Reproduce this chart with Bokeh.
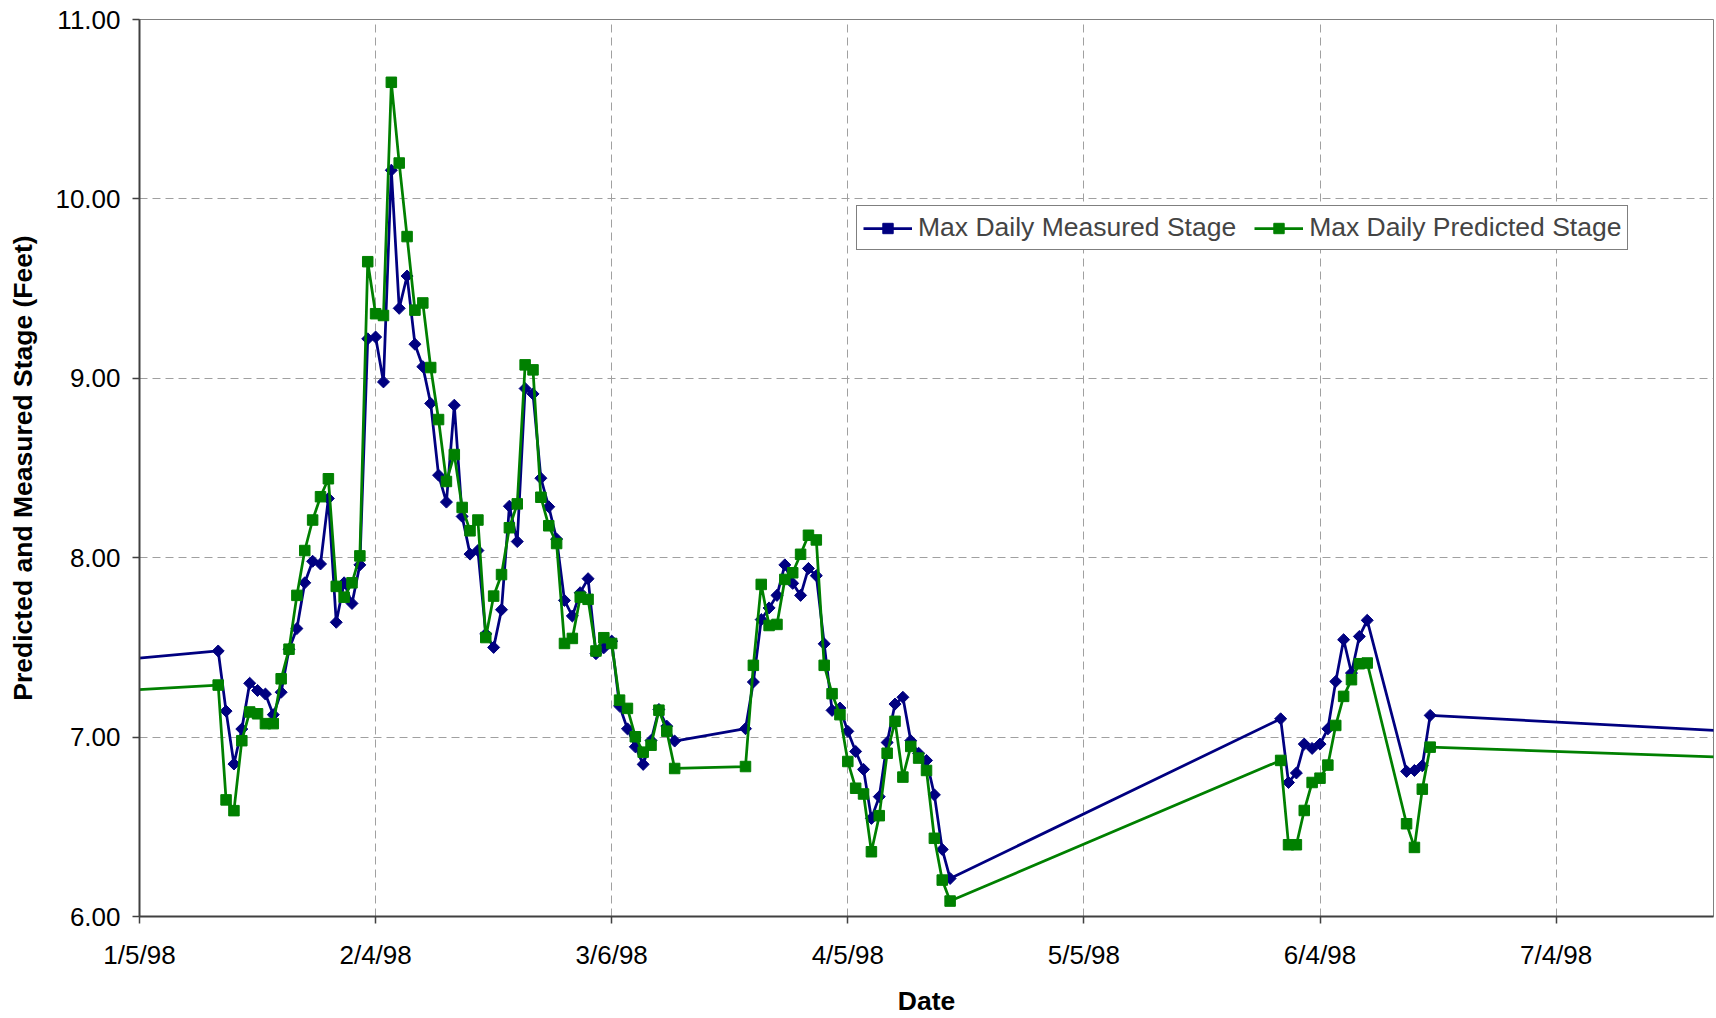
import math
import pandas as pd
from bokeh.plotting import figure
from bokeh.models import (ColumnDataSource, FixedTicker, Legend, LegendItem,
                          Range1d, NumeralTickFormatter)
from bokeh.embed import file_html
from bokeh.resources import INLINE

# ---------------- data ----------------
dates = [
    "1997-12-26",
    "1998-01-15", "1998-01-16", "1998-01-17", "1998-01-18", "1998-01-19", "1998-01-20",
    "1998-01-21", "1998-01-22", "1998-01-23", "1998-01-24", "1998-01-25", "1998-01-26",
    "1998-01-27", "1998-01-28", "1998-01-29", "1998-01-30", "1998-01-31", "1998-02-01",
    "1998-02-02", "1998-02-03", "1998-02-04", "1998-02-05", "1998-02-06", "1998-02-07",
    "1998-02-08", "1998-02-09", "1998-02-10", "1998-02-11", "1998-02-12", "1998-02-13",
    "1998-02-14", "1998-02-15", "1998-02-16", "1998-02-17", "1998-02-18", "1998-02-19",
    "1998-02-20", "1998-02-21", "1998-02-22", "1998-02-23", "1998-02-24", "1998-02-25",
    "1998-02-26", "1998-02-27", "1998-02-28", "1998-03-01", "1998-03-02", "1998-03-03",
    "1998-03-04", "1998-03-05", "1998-03-06", "1998-03-07", "1998-03-08", "1998-03-09",
    "1998-03-10", "1998-03-11", "1998-03-12", "1998-03-13", "1998-03-14",
    "1998-03-23", "1998-03-24", "1998-03-25", "1998-03-26", "1998-03-27", "1998-03-28",
    "1998-03-29", "1998-03-30", "1998-03-31", "1998-04-01", "1998-04-02", "1998-04-03",
    "1998-04-04", "1998-04-05", "1998-04-06", "1998-04-07", "1998-04-08", "1998-04-09",
    "1998-04-10", "1998-04-11", "1998-04-12", "1998-04-13", "1998-04-14", "1998-04-15",
    "1998-04-16", "1998-04-17", "1998-04-18",
    "1998-05-30", "1998-05-31", "1998-06-01", "1998-06-02", "1998-06-03", "1998-06-04",
    "1998-06-05", "1998-06-06", "1998-06-07", "1998-06-08", "1998-06-09", "1998-06-10",
    "1998-06-15", "1998-06-16", "1998-06-17", "1998-06-18",
    "1998-08-03",
]

measured = [
    7.40,
    7.48, 7.145, 6.85, 7.045, 7.30, 7.26,
    7.24, 7.125, 7.25, 7.49, 7.605, 7.86,
    7.98, 7.965, 8.33, 7.64, 7.86, 7.745,
    7.96, 9.22, 9.23, 8.98, 10.16, 9.39,
    9.57, 9.19, 9.065, 8.86, 8.46, 8.31,
    8.85, 8.23, 8.02, 8.04, 7.575, 7.50,
    7.71, 8.287, 8.09, 8.943, 8.913, 8.443,
    8.284, 8.104, 7.762, 7.675, 7.805, 7.883,
    7.465, 7.498, 7.535, 7.173, 7.046, 6.946,
    6.848, 6.981, 7.154, 7.061, 6.978,
    7.047, 7.307, 7.655, 7.72, 7.79, 7.96,
    7.857, 7.79, 7.94, 7.90, 7.52, 7.149,
    7.162, 7.032, 6.92, 6.82, 6.547, 6.668,
    6.97, 7.184, 7.222, 6.98, 6.91, 6.87,
    6.678, 6.374, 6.212,
    7.102, 6.747, 6.80, 6.961, 6.937, 6.961,
    7.046, 7.31, 7.543, 7.357, 7.561, 7.651,
    6.809, 6.814, 6.84, 7.121,
    7.014,
]

predicted = [
    7.24,
    7.29, 6.65, 6.59, 6.98, 7.14, 7.13,
    7.075, 7.075, 7.325, 7.49, 7.79, 8.04,
    8.21, 8.34, 8.44, 7.84, 7.78, 7.86,
    8.01, 9.65, 9.36, 9.35, 10.65, 10.20,
    9.79, 9.38, 9.42, 9.06, 8.77, 8.425,
    8.575, 8.28, 8.15, 8.21, 7.555, 7.786,
    7.906, 8.167, 8.30, 9.075, 9.047, 8.337,
    8.178, 8.079, 7.522, 7.55, 7.78, 7.768,
    7.48, 7.554, 7.522, 7.206, 7.16, 7.002,
    6.916, 6.955, 7.15, 7.033, 6.825,
    6.836, 7.40, 7.851, 7.622, 7.628, 7.879,
    7.916, 8.019, 8.125, 8.099, 7.40, 7.242,
    7.125, 6.864, 6.715, 6.683, 6.361, 6.562,
    6.91, 7.088, 6.777, 6.948, 6.883, 6.814,
    6.436, 6.203, 6.086,
    6.87, 6.40, 6.40, 6.591, 6.747, 6.771,
    6.844, 7.065, 7.227, 7.32, 7.409, 7.413,
    6.517, 6.385, 6.71, 6.944,
    6.875,
]

series_names = ["Max Daily Measured Stage", "Max Daily Predicted Stage"]
x_tick_labels = ["1/5/98", "2/4/98", "3/6/98", "4/5/98", "5/5/98", "6/4/98", "7/4/98"]
x_start_label = "1/5/98"
x_end_label = "7/24/98"
y_ticks = [6, 7, 8, 9, 10, 11]

# ---------------- derived ----------------
origin = pd.to_datetime(x_start_label, format="%m/%d/%y")
day = [(pd.Timestamp(d) - origin).days for d in dates]
tick_days = [(pd.to_datetime(t, format="%m/%d/%y") - origin).days for t in x_tick_labels]
x_end = (pd.to_datetime(x_end_label, format="%m/%d/%y") - origin).days

src = ColumnDataSource(dict(day=day, measured=measured, predicted=predicted))

FONT = "Liberation Sans"
BLUE = "#000080"
GREEN = "#008000"

p = figure(width=1716, height=1018, output_backend="svg", toolbar_location=None,
           x_range=Range1d(0, x_end), y_range=Range1d(min(y_ticks), max(y_ticks)),
           min_border_left=139, min_border_right=3, min_border_top=19,
           min_border_bottom=102)
p.background_fill_color = "white"
p.border_fill_color = "white"
p.outline_line_color = "#808080"
p.outline_line_width = 1

r1 = p.line("day", "measured", source=src, line_color=BLUE, line_width=2.75)
r1m = p.scatter("day", "measured", source=src, marker="square", angle=math.pi / 4,
                size=8.5, fill_color=BLUE, line_color=BLUE)
r2 = p.line("day", "predicted", source=src, line_color=GREEN, line_width=2.75)
r2m = p.scatter("day", "predicted", source=src, marker="square", size=10.5,
                fill_color=GREEN, line_color=GREEN)

# axes
p.xaxis.ticker = FixedTicker(ticks=tick_days)
p.xaxis.major_label_overrides = {d: l for d, l in zip(tick_days, x_tick_labels)}
p.yaxis.ticker = FixedTicker(ticks=y_ticks)
p.yaxis.formatter = NumeralTickFormatter(format="0.00")
p.xgrid.ticker = FixedTicker(ticks=tick_days)
p.ygrid.ticker = FixedTicker(ticks=y_ticks)

for ax in (p.xaxis[0], p.yaxis[0]):
    ax.axis_line_color = "#404040"
    ax.axis_line_width = 2
    ax.major_tick_line_color = "#404040"
    ax.major_tick_line_width = 1.5
    ax.major_tick_in = 0
    ax.major_tick_out = 7
    ax.minor_tick_line_color = None
    ax.major_label_text_font = FONT
    ax.major_label_text_font_size = "26px"
    ax.major_label_text_color = "black"
    ax.axis_label_text_font = FONT
    ax.axis_label_text_font_size = "26.5px"
    ax.axis_label_text_font_style = "bold"
    ax.axis_label_text_color = "black"

p.xaxis.axis_label = "Date"
p.yaxis.axis_label = "Predicted and Measured Stage (Feet)"
p.xaxis.major_label_standoff = 16
p.xaxis.axis_label_standoff = 13
p.yaxis.major_label_standoff = 12
p.yaxis.axis_label_standoff = 14

p.grid.grid_line_color = "#a0a0a0"
p.grid.grid_line_dash = "8 5"
p.grid.grid_line_width = 1

legend = Legend(items=[LegendItem(label=series_names[0], renderers=[r1, r1m]),
                       LegendItem(label=series_names[1], renderers=[r2, r2m])],
                location=(717, 666), orientation="horizontal")
legend.border_line_color = "black"
legend.border_line_width = 1
legend.background_fill_color = "white"
legend.background_fill_alpha = 1
legend.label_text_font = FONT
legend.label_text_font_size = "26.5px"
legend.glyph_width = 49
legend.glyph_height = 26
legend.label_standoff = 6
legend.spacing = 18
legend.padding = 6
legend.margin = 0
p.add_layout(legend)

open("out.html", "w").write(file_html(p, INLINE))
